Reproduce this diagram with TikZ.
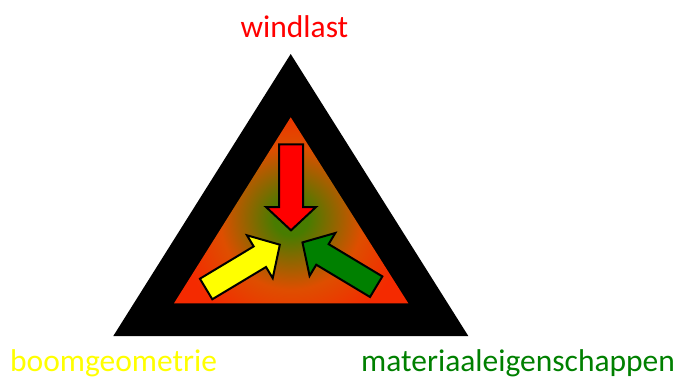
\documentclass[tikz,border=0pt]{standalone}
\usepackage{fontspec}
\setmainfont{Carlito}
\usetikzlibrary{shapes.arrows}
\definecolor{windred}{RGB}{255, 0, 0}
\definecolor{boomyellow}{RGB}{255, 255, 0}
\definecolor{materiaalgreen}{RGB}{0, 128, 0}
\definecolor{coregreen}{RGB}{72, 124, 0}
\definecolor{edgeorange}{RGB}{222, 78, 0}
\definecolor{edgered}{RGB}{244, 42, 0}
\pgfdeclareradialshading{coreshade}{\pgfpoint{0bp}{0bp}}{%
  color(0bp)=(coregreen); color(2.5bp)=(coregreen);
  color(10.5bp)=(edgeorange); color(17bp)=(edgered); color(50bp)=(edgered)}
\tikzset{
  forcearrow/.style={
    single arrow,
    draw=black,
    line width=2pt,
    minimum height=86pt,
    inner xsep=0pt,
    inner ysep=11pt,
    single arrow head extend=13pt,
    single arrow tip angle=94,
    anchor=tip
  },
  factorlabel/.style={
    inner sep=0pt,
    anchor=base,
    font=\fontsize{31.5}{36}\selectfont
  }
}

\begin{document}
\begin{tikzpicture}[x=1pt, y=1pt]
  \useasboundingbox (0,0) rectangle (681,376);

  % outer triangle
  \fill[black] (113.3,40) -- (468.3,40) -- (290.7,322) -- cycle;

  % inner triangle, green core
  \begin{scope}
    \clip (174,72.7) -- (408.3,72.7) -- (290.7,258.7) -- cycle;
    \shade[shading=coreshade] (291,158) circle (170pt);
  \end{scope}

  % arrows
  \node[forcearrow, fill=windred, rotate=-90] (windarrow) at (291,144.3) {};
  \node[forcearrow, fill=boomyellow, rotate=31] (boomarrow) at (281,132) {};
  \node[forcearrow, fill=materiaalgreen, rotate=149] (materiaalarrow) at (301.3,134.3) {};

  % labels
  \node[factorlabel, text=windred] (windlast) at (294.5,339) {windlast};
  \node[factorlabel, anchor=base west, text=boomyellow] (boom) at (10,4.5) {boomgeometrie};
  \node[factorlabel, anchor=base west, text=materiaalgreen] (materiaal) at (361,4.5) {materiaaleigenschappen};
\end{tikzpicture}
\end{document}
